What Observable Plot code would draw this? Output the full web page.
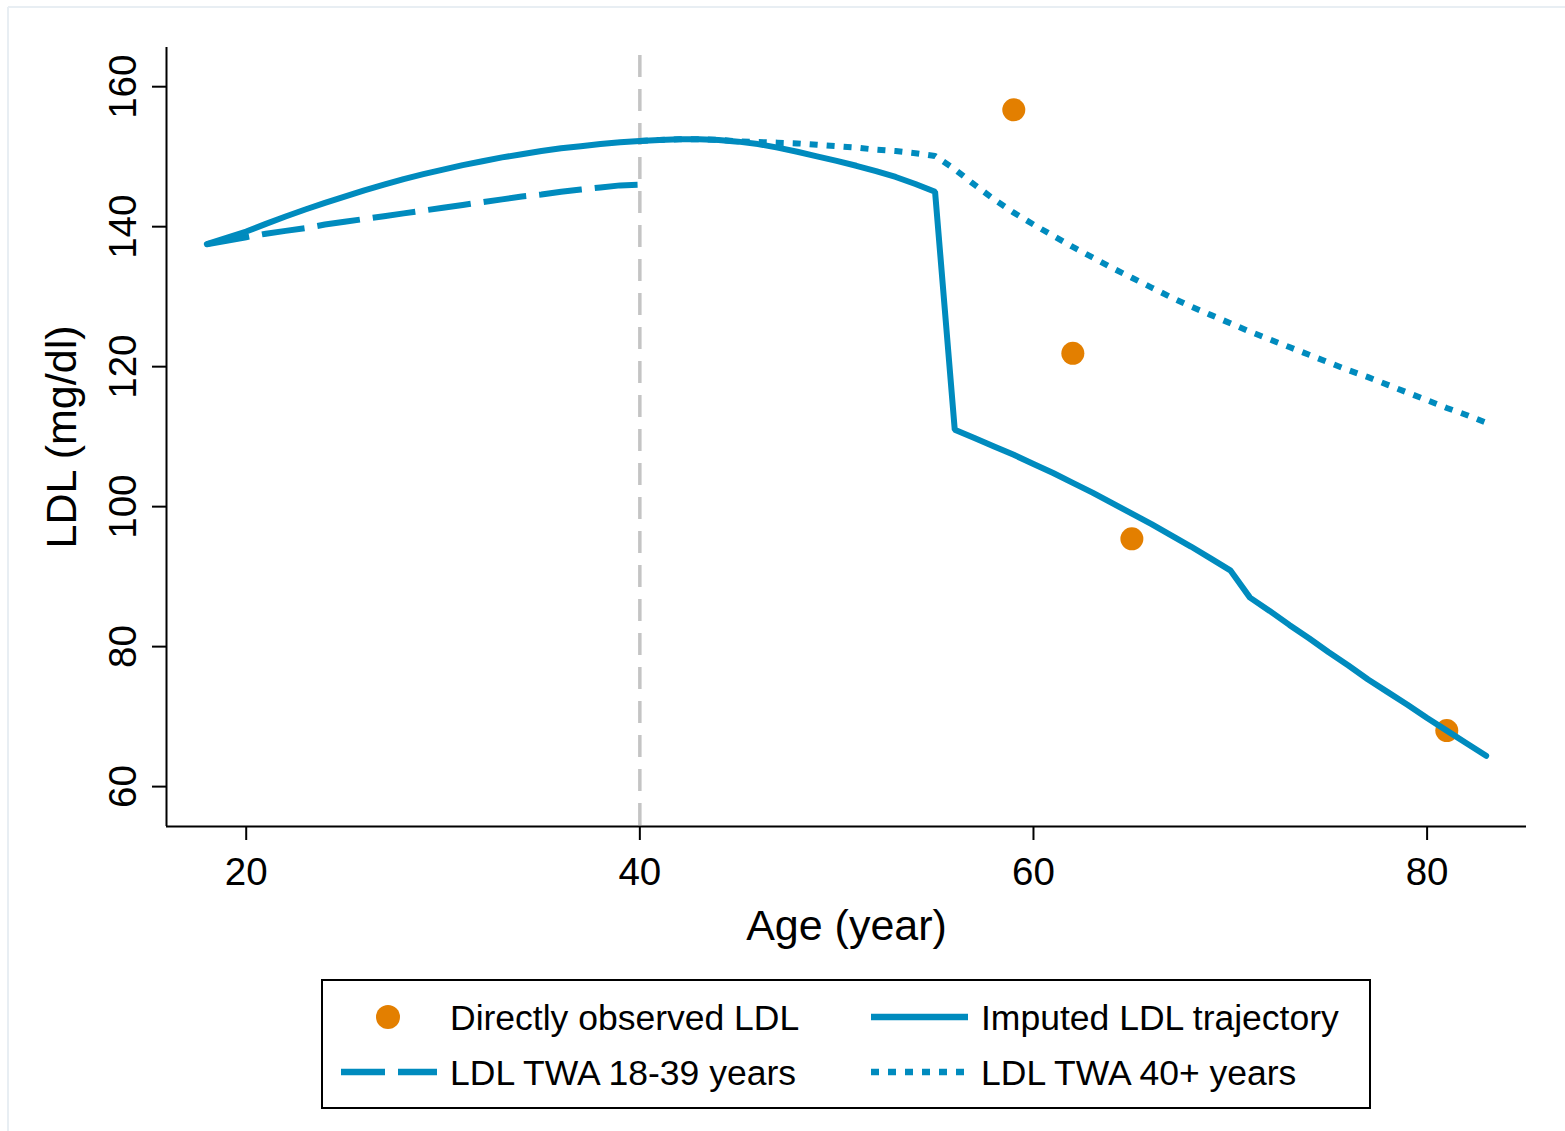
<!DOCTYPE html>
<html>
<head>
<meta charset="utf-8">
<script src="https://cdn.jsdelivr.net/npm/d3@7"></script>
<script src="https://cdn.jsdelivr.net/npm/@observablehq/plot@0.6"></script>
<style>
  html, body { margin: 0; padding: 0; background: #fff; }
  #wrap { position: relative; width: 1565px; height: 1131px; font-family: "Liberation Sans", Arial, sans-serif; }
  #chart { position: absolute; left: 0; top: 0; }
  #overlay { position: absolute; left: 0; top: 0; pointer-events: none; }
</style>
</head>
<body>
<div id="wrap">
  <div id="chart"></div>
  <svg id="overlay" width="1565" height="1131"></svg>
</div>
<script>
// ---- Data ----
const solidAge = [18,19,20,21,22,23,24,25,26,27,28,29,30,31,32,33,34,35,36,37,38,39,40,41,42,43,44,45,46,47,48,49,50,51,52,53,54,55,56,57,58,59,60,61,62,63,64,65,66,67,68,69,70,71,72,73,74,75,76,77,78,79,80,81,82,83];
const solidLDL = [137.5,138.4,139.3,140.4,141.45,142.45,143.4,144.3,145.2,146.0,146.8,147.5,148.15,148.8,149.35,149.9,150.35,150.8,151.2,151.5,151.8,152.05,152.25,152.4,152.5,152.5,152.4,152.15,151.8,151.3,150.7,150.05,149.4,148.7,147.95,147.1,146.1,145.0,111.0,109.8,108.6,107.4,106.1,104.8,103.4,102.0,100.5,99.0,97.5,95.9,94.3,92.6,90.9,87.0,85.1,83.1,81.2,79.2,77.3,75.3,73.5,71.7,69.8,68.0,66.2,64.4];

const twaEarlyAge = [18,19,20,21,22,23,24,25,26,27,28,29,30,31,32,33,34,35,36,37,38,39,40];
const twaEarlyLDL = [137.5,138.0,138.5,139.0,139.4,139.8,140.3,140.7,141.1,141.5,141.9,142.3,142.7,143.1,143.5,143.9,144.3,144.6,145.0,145.3,145.6,145.9,146.0];

const twaLateAge = [40,41,42,43,44,45,46,47,48,49,50,51,52,53,54,55,56,57,58,59,60,61,62,63,64,65,66,67,68,69,70,71,72,73,74,75,76,77,78,79,80,81,82,83];
const twaLateLDL = [152.25,152.4,152.5,152.5,152.4,152.2,152.1,152.0,151.9,151.7,151.5,151.3,151.0,150.8,150.5,150.1,148.2,146.0,143.9,142.0,140.3,138.7,137.1,135.6,134.1,132.7,131.3,129.9,128.6,127.4,126.2,125.0,123.9,122.8,121.7,120.6,119.5,118.5,117.4,116.3,115.2,114.1,113.1,112.0];

const obsAge = [59,62,65,81];
const obsLDL = [156.7,121.9,95.4,68.0];

const xTicks = [20,40,60,80];
const yTicks = [60,80,100,120,140,160];
const refAge = [40];

const legendLabels = ["Directly observed LDL","Imputed LDL trajectory","LDL TWA 18-39 years","LDL TWA 40+ years"];

// ---- Build tables ----
const zip = (a, b) => a.map((v, i) => ({age: v, ldl: b[i]}));
const solid = zip(solidAge, solidLDL);
const early = zip(twaEarlyAge, twaEarlyLDL);
const late = zip(twaLateAge, twaLateLDL);
const obs = zip(obsAge, obsLDL);

const BLUE = "#008bbe";
const ORANGE = "#e37f00";
const FONT = "'Liberation Sans', Arial, sans-serif";

const xDom = [15.95, 85.05];
const yDom = [54.3, 165.6];

const chart = Plot.plot({
  width: 1565,
  height: 960,
  marginLeft: 166,
  marginRight: 39,
  marginTop: 47,
  marginBottom: 134,
  style: {fontFamily: FONT, background: "transparent", color: "#000", overflow: "visible"},
  x: {domain: xDom},
  y: {domain: yDom},
  marks: [
    Plot.ruleX(refAge, {stroke: "#c4c4c4", strokeWidth: 3.5, strokeDasharray: "22,12", strokeDashoffset: 26}),
    Plot.dot(obs, {x: "age", y: "ldl", r: 11.5, fill: ORANGE, stroke: "none"}),
    Plot.line(early, {x: "age", y: "ldl", stroke: BLUE, strokeWidth: 6, strokeDasharray: "43,13", strokeLinecap: "butt"}),
    Plot.line(late, {x: "age", y: "ldl", stroke: BLUE, strokeWidth: 6, strokeDasharray: "8,9", strokeLinecap: "butt"}),
    Plot.line(solid, {x: "age", y: "ldl", stroke: BLUE, strokeWidth: 6, strokeLinecap: "round", strokeLinejoin: "miter"}),
    Plot.ruleX([xDom[0]], {stroke: "#000", strokeWidth: 2}),
    Plot.ruleY([yDom[0]], {stroke: "#000", strokeWidth: 2}),
    Plot.axisX({ticks: xTicks, tickSize: 14, tickPadding: 17, strokeWidth: 2, fontSize: 38.5,
      label: "Age (year)", labelAnchor: "center", labelArrow: "none", labelOffset: 113, tickFormat: d => String(d)}),
    Plot.axisY({ticks: yTicks, tickSize: 14, tickPadding: 17, tickRotate: -90, strokeWidth: 2, fontSize: 38.5,
      label: "LDL (mg/dl)", labelAnchor: "center", labelArrow: "none", labelOffset: 121, tickFormat: d => String(d)})
  ]
});
d3.selectAll(chart.querySelectorAll("[aria-label='x-axis label'], [aria-label='y-axis label']")).attr("font-size", 43);
chart.querySelectorAll("[aria-label='x-axis label'] text, [aria-label='y-axis label'] text").forEach(t => t.setAttribute("font-size", 43));
document.getElementById("chart").appendChild(chart);

// ---- Frame & legend (below the plot) ----
const ov = d3.select("#overlay");
ov.append("line").attr("x1", 8).attr("y1", 7).attr("x2", 1565).attr("y2", 7).attr("stroke", "#e8eef3").attr("stroke-width", 2);
ov.append("line").attr("x1", 8).attr("y1", 7).attr("x2", 8).attr("y2", 1131).attr("stroke", "#e8eef3").attr("stroke-width", 2);

const lg = ov.append("g").attr("font-family", FONT).attr("font-size", 35.5).attr("fill", "#000");
lg.append("rect").attr("x", 322).attr("y", 980).attr("width", 1048).attr("height", 128)
  .attr("fill", "#fff").attr("stroke", "#000").attr("stroke-width", 2);
// row 1
lg.append("circle").attr("cx", 388).attr("cy", 1017).attr("r", 12).attr("fill", ORANGE);
lg.append("text").attr("x", 450).attr("y", 1030).text(legendLabels[0]);
lg.append("line").attr("x1", 871).attr("x2", 968).attr("y1", 1017).attr("y2", 1017).attr("stroke", BLUE).attr("stroke-width", 6.5);
lg.append("text").attr("x", 981).attr("y", 1030).text(legendLabels[1]);
// row 2
lg.append("line").attr("x1", 341).attr("x2", 437).attr("y1", 1072).attr("y2", 1072).attr("stroke", BLUE).attr("stroke-width", 6.5).attr("stroke-dasharray", "44,13");
lg.append("text").attr("x", 450).attr("y", 1085).text(legendLabels[2]);
lg.append("line").attr("x1", 871).attr("x2", 966).attr("y1", 1072).attr("y2", 1072).attr("stroke", BLUE).attr("stroke-width", 6.5).attr("stroke-dasharray", "8,9");
lg.append("text").attr("x", 981).attr("y", 1085).text(legendLabels[3]);
</script>
</body>
</html>
